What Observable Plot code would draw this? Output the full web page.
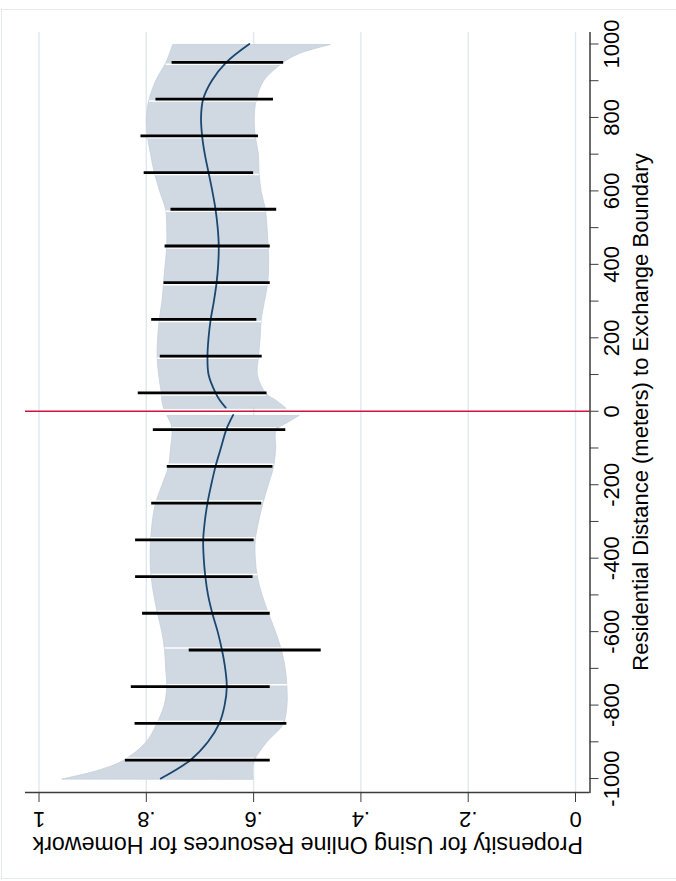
<!DOCTYPE html>
<html>
<head>
<meta charset="utf-8">
<script src="https://cdn.jsdelivr.net/npm/d3@7"></script>
<script src="https://cdn.jsdelivr.net/npm/@observablehq/plot@0.6"></script>
<style>
  html, body { margin: 0; padding: 0; background: white; overflow: hidden; }
  body { width: 676px; height: 881px; position: relative; }
  #rot { position: absolute; left: 0; top: 881px; width: 881px; height: 676px;
         transform-origin: 0 0; transform: rotate(-90deg); }
  #frame { position: absolute; left: 1px; top: 9px; width: 700px; height: 868px;
           border: 1px solid #e4ebef; pointer-events: none; }
</style>
</head>
<body>
<div id="rot"></div>
<div id="frame"></div>
<script>
// ---- data ----
const binD  = [-950,-850,-750,-650,-550,-450,-350,-250,-150,-50,50,150,250,350,450,550,650,750,850,950];
const barHi = [0.839,0.821,0.828,0.720,0.807,0.820,0.820,0.790,0.761,0.787,0.815,0.774,0.790,0.767,0.765,0.754,0.804,0.810,0.782,0.752];
const barLo = [0.569,0.538,0.569,0.474,0.569,0.601,0.599,0.585,0.564,0.540,0.575,0.584,0.594,0.569,0.569,0.557,0.600,0.591,0.563,0.544];

const fitRD = [10,30,50,100,150,200,250,300,350,400,450,500,550,600,650,700,750,800,850,900,950,1000];
const fitRP = [0.652,0.663,0.671,0.684,0.686,0.684,0.680,0.674,0.669,0.666,0.665,0.667,0.671,0.677,0.684,0.691,0.696,0.698,0.694,0.678,0.651,0.608];
const fitLD = [-1000,-950,-900,-850,-800,-750,-700,-650,-600,-550,-500,-450,-400,-350,-300,-250,-200,-150,-100,-50,-30,-10];
const fitLP = [0.773,0.718,0.685,0.664,0.654,0.650,0.653,0.659,0.667,0.677,0.685,0.690,0.693,0.694,0.691,0.686,0.679,0.671,0.661,0.651,0.645,0.638];

const bandRD  = [10,30,50,100,150,200,250,300,350,400,450,500,550,600,650,700,750,800,850,900,950,975,1000];
const bandRHi = [0.767,0.770,0.771,0.776,0.779,0.778,0.775,0.770,0.767,0.764,0.761,0.761,0.763,0.774,0.784,0.791,0.797,0.799,0.794,0.782,0.763,0.756,0.750];
const bandRLo = [0.539,0.556,0.576,0.592,0.590,0.587,0.585,0.579,0.573,0.571,0.572,0.574,0.577,0.585,0.589,0.590,0.596,0.598,0.594,0.581,0.545,0.515,0.456];
const bandLD  = [-1000,-975,-950,-900,-850,-800,-750,-700,-650,-600,-550,-500,-450,-400,-350,-300,-250,-200,-150,-100,-50,-30,-10];
const bandLHi = [0.956,0.886,0.843,0.800,0.780,0.766,0.761,0.763,0.765,0.770,0.778,0.785,0.790,0.792,0.791,0.788,0.782,0.770,0.758,0.754,0.751,0.754,0.761];
const bandLLo = [0.600,0.601,0.598,0.575,0.544,0.537,0.537,0.540,0.547,0.558,0.571,0.583,0.592,0.596,0.596,0.590,0.582,0.572,0.562,0.558,0.557,0.537,0.514];

const xTickValues = [-1000,-900,-800,-700,-600,-500,-400,-300,-200,-100,0,100,200,300,400,500,600,700,800,900,1000];
const xTickLabels = ["-1000","","-800","","-600","","-400","","-200","","0","","200","","400","","600","","800","","1000"];
const yTickValues = [0,0.2,0.4,0.6,0.8,1];
const yTickLabels = ["0",".2",".4",".6",".8","1"];
const cutoff = [0];

const xTitle = "Residential Distance (meters) to Exchange Boundary";
const yTitle = "Propensity for Using Online Resources for Homework";

// ---- build tables ----
const bars = binD.map((d, i) => ({d, lo: barLo[i], hi: barHi[i]}));
const fitR = fitRD.map((d, i) => ({d, p: fitRP[i]}));
const fitL = fitLD.map((d, i) => ({d, p: fitLP[i]}));
const bandR = bandRD.map((d, i) => ({d, lo: bandRLo[i], hi: bandRHi[i]}));
const bandL = bandLD.map((d, i) => ({d, lo: bandLLo[i], hi: bandLHi[i]}));
function interp(ds, vs, d) {
  const i = Math.max(1, Math.min(ds.length - 1, d3.bisectLeft(ds, d)));
  const t = (d - ds[i-1]) / (ds[i] - ds[i-1]);
  return vs[i-1] + t * (vs[i] - vs[i-1]);
}
const gapsPos = binD.filter(d => d > 0).map(d => ({d, lo: interp(bandRD, bandRLo, d), hi: interp(bandRD, bandRHi, d)}));
const gapsNeg = binD.filter(d => d < 0).map(d => ({d, lo: interp(bandLD, bandLLo, d), hi: interp(bandLD, bandLHi, d)}));

const xDomain = [-1038, 1034];
const yDomain = [-0.027, 1.0252];
const bandFill = "#d0d9e2", bandStroke = "#c4cfda";

const chart = Plot.plot({
  width: 881,
  height: 676,
  marginLeft: 88,
  marginRight: 32,
  marginTop: 25,
  marginBottom: 86.5,
  x: {domain: xDomain},
  y: {domain: yDomain},
  style: {fontFamily: "'Liberation Sans', Arial, sans-serif", fontSize: "22px", background: "transparent", maxWidth: "none", overflow: "visible"},
  marks: [
    Plot.gridY(yTickValues, {stroke: "#dfe8ee", strokeOpacity: 1, strokeWidth: 1.4}),
    Plot.areaY(bandR, {x: "d", y1: "lo", y2: "hi", fill: bandFill, stroke: bandStroke, strokeWidth: 0.8, curve: "catmull-rom"}),
    Plot.areaY(bandL, {x: "d", y1: "lo", y2: "hi", fill: bandFill, stroke: bandStroke, strokeWidth: 0.8, curve: "catmull-rom"}),
    Plot.ruleX(gapsPos, {x: "d", y1: "lo", y2: "hi", stroke: "white", strokeWidth: 1.5, dx: -2}),
    Plot.ruleX(gapsNeg, {x: "d", y1: "lo", y2: "hi", stroke: "white", strokeWidth: 1.5, dx: 2}),
    Plot.ruleX(cutoff, {stroke: "#d0123f", strokeWidth: 1.7}),
    Plot.lineY(fitR, {x: "d", y: "p", stroke: "#1a476f", strokeWidth: 1.8, curve: "catmull-rom"}),
    Plot.lineY(fitL, {x: "d", y: "p", stroke: "#1a476f", strokeWidth: 1.8, curve: "catmull-rom"}),
    Plot.ruleX(bars, {x: "d", y1: "lo", y2: "hi", stroke: "black", strokeWidth: 2.8}),
    Plot.ruleY([yDomain[0]], {stroke: "#3c3c3c", strokeWidth: 1.5}),
    Plot.ruleX([xDomain[0]], {stroke: "#3c3c3c", strokeWidth: 1.5}),
    Plot.axisX({ticks: xTickValues, tickFormat: (d) => xTickLabels[xTickValues.indexOf(d)], tickSize: 9, tickPadding: 4, label: null, stroke: "#3c3c3c", fill: "black", fontSize: 22}),
    Plot.axisY({ticks: yTickValues, tickFormat: (d) => yTickLabels[yTickValues.indexOf(d)], tickRotate: -90, tickSize: 9, tickPadding: 10, label: null, stroke: "#3c3c3c", fill: "black", fontSize: 22}),
    Plot.text([xTitle], {frameAnchor: "bottom", dy: 57.5, lineAnchor: "bottom", textAnchor: "middle", fontSize: 22, fill: "black"}),
    Plot.text([yTitle], {frameAnchor: "left", rotate: -90, dx: -44, lineAnchor: "bottom", textAnchor: "middle", fontSize: 23.2, fill: "black"})
  ]
});
document.getElementById("rot").appendChild(chart);
</script>
</body>
</html>
